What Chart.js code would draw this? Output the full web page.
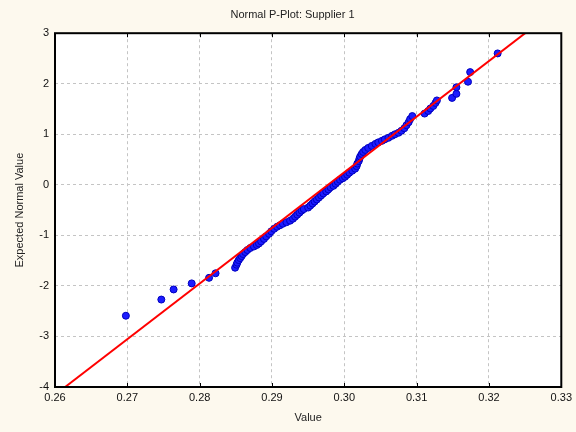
<!DOCTYPE html>
<html><head><meta charset="utf-8">
<script src="https://cdn.jsdelivr.net/npm/chart.js@4"></script>
<style>html,body{margin:0;padding:0;background:#fdf9ee;}canvas{display:block}</style>
</head><body>
<canvas id="c" width="576" height="432"></canvas>
<script>
const chartTitle = 'Normal P-Plot: Supplier 1';
const xAxisTitle = 'Value';
const yAxisTitle = 'Expected Normal Value';
const xTickValues = [0.26, 0.27, 0.28, 0.29, 0.30, 0.31, 0.32, 0.33];
const yTickValues = [-4, -3, -2, -1, 0, 1, 2, 3];

const observedValues = [
  0.2698, 0.2747, 0.2764, 0.2789, 0.2813, 0.2822, 0.2849, 0.2851, 0.2852, 0.2854,
  0.2856, 0.2858, 0.2860, 0.2863, 0.2866, 0.2870, 0.2875, 0.2879, 0.2882, 0.2885,
  0.2889, 0.2892, 0.2896, 0.2899, 0.2903, 0.2907, 0.2911, 0.2915, 0.2920, 0.2925,
  0.2929, 0.2932, 0.2935, 0.2938, 0.2941, 0.2944, 0.2950, 0.2953, 0.2956, 0.2959,
  0.2962, 0.2965, 0.2968, 0.2971, 0.2975, 0.2978, 0.2981, 0.2985, 0.2988, 0.2991,
  0.2994, 0.2998, 0.3001, 0.3004, 0.3007, 0.3011, 0.3015, 0.3017, 0.3018, 0.3020,
  0.3021, 0.3022, 0.3024, 0.3026, 0.3029, 0.3033, 0.3038, 0.3043, 0.3047, 0.3052,
  0.3056, 0.3061, 0.3066, 0.3070, 0.3075, 0.3079, 0.3083, 0.3086, 0.3089, 0.3091,
  0.3094, 0.3111, 0.3116, 0.3119, 0.3123, 0.3126, 0.3128, 0.3149, 0.3155, 0.3155,
  0.3171, 0.3174, 0.3212
];
const expectedNormal = [
  -2.59, -2.27, -2.07, -1.95, -1.84, -1.75, -1.64, -1.58, -1.54, -1.49,
  -1.45, -1.41, -1.37, -1.33, -1.29, -1.25, -1.22, -1.19, -1.16, -1.12,
  -1.07, -1.02, -0.97, -0.92, -0.87, -0.83, -0.80, -0.77, -0.74, -0.71,
  -0.67, -0.63, -0.59, -0.55, -0.51, -0.48, -0.45, -0.41, -0.37, -0.33,
  -0.29, -0.25, -0.21, -0.17, -0.13, -0.09, -0.05, -0.02, 0.02, 0.06,
  0.10, 0.13, 0.16, 0.20, 0.24, 0.28, 0.32, 0.37, 0.42, 0.47,
  0.52, 0.56, 0.61, 0.65, 0.69, 0.73, 0.77, 0.81, 0.84, 0.87,
  0.90, 0.93, 0.97, 1.00, 1.03, 1.07, 1.12, 1.18, 1.24, 1.30,
  1.36, 1.41, 1.46, 1.51, 1.56, 1.62, 1.67, 1.72, 1.80, 1.93,
  2.04, 2.23, 2.60
];
const fitLineX = [0.2614, 0.3250];
const fitLineY = [-4, 3];

const FONT = "'Liberation Sans', Arial, sans-serif";

const framePlugin = {
  id: 'frame',
  beforeDraw(chart) {
    const {ctx, chartArea: a} = chart;
    ctx.save();
    ctx.fillStyle = '#fdf9ee';
    ctx.fillRect(0, 0, chart.width, chart.height);
    ctx.fillStyle = '#ffffff';
    ctx.fillRect(a.left, a.top, a.right - a.left, a.bottom - a.top);
    ctx.restore();
  },
  afterLayout(chart) {
    const t = chart.titleBlock;
    if (t) { t.left += 20; }
  },
  afterDraw(chart) {
    const {ctx, chartArea: a} = chart;
    const xs = chart.scales.x;
    ctx.save();
    ctx.strokeStyle = '#000';
    ctx.lineWidth = 1;
    xTickValues.forEach(v => {
      const px = Math.round(xs.getPixelForValue(v)) + 0.5;
      ctx.beginPath();
      ctx.moveTo(px, a.bottom); ctx.lineTo(px, a.bottom - 4);
      ctx.moveTo(px, a.top); ctx.lineTo(px, a.top + 4);
      ctx.stroke();
    });
    ctx.lineWidth = 2;
    ctx.strokeRect(a.left, a.top, a.right - a.left, a.bottom - a.top);
    ctx.restore();
  }
};

new Chart(document.getElementById('c'), {
  type: 'scatter',
  data: {
    datasets: [
      {
        type: 'line',
        label: 'fit',
        data: fitLineX.map((x, i) => ({x: x, y: fitLineY[i]})),
        borderColor: '#ff0000',
        borderWidth: 2,
        pointRadius: 0,
        fill: false,
        tension: 0
      },
      {
        label: 'Supplier 1',
        data: observedValues.map((x, i) => ({x: x, y: expectedNormal[i]})),
        backgroundColor: '#1c1cff',
        borderColor: '#0000c0',
        borderWidth: 1,
        pointRadius: 3.5
      }
    ]
  },
  options: {
    responsive: false,
    animation: false,
    events: [],
    layout: {padding: {left: 0, right: 11, top: 0, bottom: 0}},
    plugins: {
      legend: {display: false},
      tooltip: {enabled: false},
      title: {
        display: true,
        text: chartTitle,
        color: '#222',
        font: {family: FONT, size: 11, weight: 'normal'},
        padding: {top: 8, bottom: 12}
      }
    },
    scales: {
      x: {
        type: 'linear',
        min: 0.26, max: 0.33,
        afterBuildTicks: s => { s.ticks = xTickValues.map(v => ({value: v})); },
        afterFit: s => { s.height = 45; },
        ticks: {
          callback: v => Number(v).toFixed(2),
          color: '#111',
          font: {family: FONT, size: 11},
          padding: 4,
          maxRotation: 0,
          autoSkip: false
        },
        grid: {color: '#c4c4c4', lineWidth: 1, drawTicks: false},
        border: {display: false, dash: [3, 3]},
        title: {
          display: true, text: xAxisTitle, color: '#222',
          font: {family: FONT, size: 11}, padding: {top: 0, bottom: 7}
        }
      },
      y: {
        type: 'linear',
        min: -4, max: 3,
        afterBuildTicks: s => { s.ticks = yTickValues.map(v => ({value: v})); },
        afterFit: s => { s.width = 55; },
        ticks: {
          color: '#111',
          font: {family: FONT, size: 11},
          padding: 6,
          autoSkip: false
        },
        grid: {color: '#c4c4c4', lineWidth: 1, drawTicks: false},
        border: {display: false, dash: [3, 3]},
        title: {
          display: true, text: yAxisTitle, color: '#222',
          font: {family: FONT, size: 11}, padding: {top: 13, bottom: 0}
        }
      }
    }
  },
  plugins: [framePlugin]
});
</script>
</body></html>
